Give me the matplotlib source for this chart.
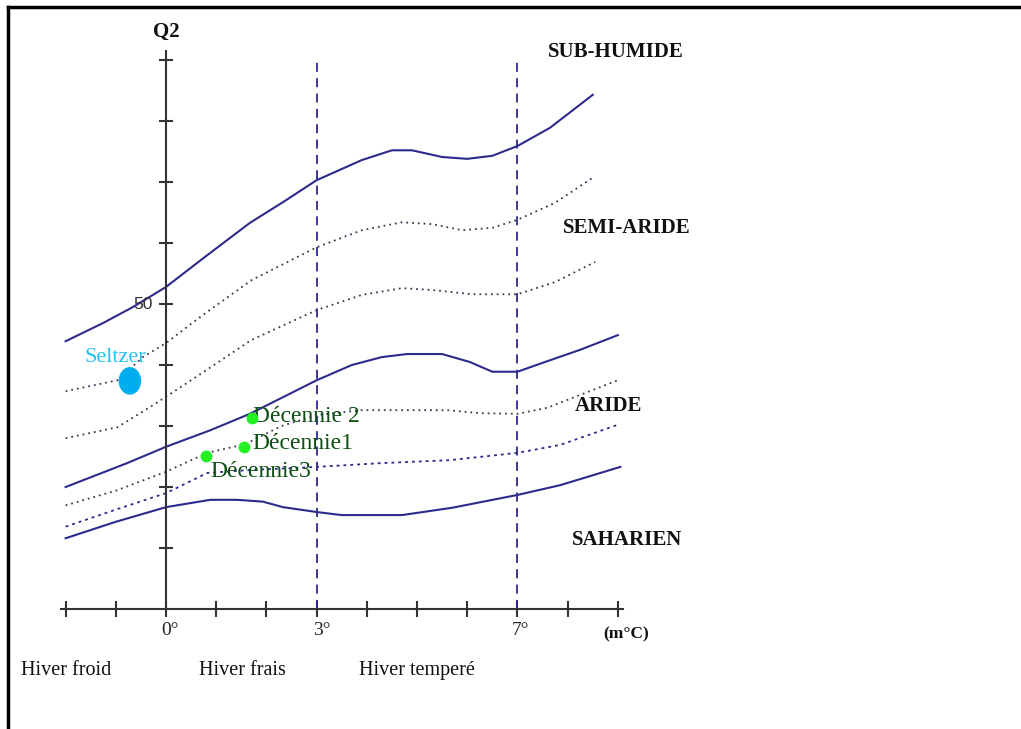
import matplotlib
matplotlib.use("Agg")
import matplotlib.pyplot as plt
from matplotlib.patches import Ellipse
from matplotlib.lines import Line2D

# limites d'etages (m en degres C, Q2)
x1 = [-2, -1.25, -0.66, 0, 0.74, 1.67, 2.33, 3, 3.9, 4.5, 4.9, 5.5, 6, 6.5, 7, 7.65, 8.5]
y1 = [43.9, 46.9, 49.5, 52.8, 57.5, 63.3, 66.7, 70.3, 73.6, 75.2, 75.2, 74.1, 73.8, 74.3, 75.9, 78.9, 84.3]

x2 = [-2, -0.97, -0.46, 0, 0.7, 1.7, 3, 3.9, 4.7, 5.3, 5.9, 6.5, 7, 7.75, 8.5]
y2 = [35.7, 37.5, 41.3, 43.6, 48.0, 53.9, 59.3, 62.1, 63.4, 63.1, 62.1, 62.5, 63.8, 66.6, 70.7]

x3 = [-2, -0.97, -0.32, 0, 0.7, 1.7, 3, 3.9, 4.7, 5.3, 6.1, 7, 7.75, 8.55]
y3 = [28.0, 29.8, 33.1, 34.8, 38.6, 44.1, 49.0, 51.5, 52.6, 52.3, 51.6, 51.6, 53.6, 56.9]

x4 = [-2, -0.78, 0, 0.88, 1.67, 3, 3.7, 4.3, 4.8, 5.5, 6.05, 6.5, 7, 7.55, 8.25, 9]
y4 = [20.0, 23.9, 26.6, 29.3, 32.0, 37.5, 40.0, 41.3, 41.8, 41.8, 40.5, 38.9, 38.9, 40.5, 42.5, 44.9]

x5 = [-2, -1.0, 0, 0.82, 1.57, 2.3, 3, 3.9, 5.6, 6.25, 7, 7.6, 8.25, 9]
y5 = [17.0, 19.4, 22.5, 25.6, 27.0, 30.0, 31.8, 32.6, 32.6, 32.1, 32.0, 33.0, 35.1, 37.5]

x6 = [-2, -1.0, 0, 0.82, 1.7, 3, 4.25, 5.65, 7, 7.85, 9]
y6 = [13.5, 16.3, 19.0, 22.3, 22.8, 23.3, 23.9, 24.4, 25.6, 26.9, 30.2]

x7 = [-2, -1.0, 0, 0.88, 1.42, 1.93, 2.33, 3, 3.5, 4.7, 5.7, 7, 7.85, 9.05]
y7 = [11.6, 14.3, 16.7, 17.9, 17.9, 17.6, 16.7, 15.9, 15.4, 15.4, 16.6, 18.7, 20.3, 23.3]

# stations
decennies = ["Décennie 2", "Décennie1", "Décennie3"]
dec_m = [1.71, 1.55, 0.80]
dec_q2 = [31.3, 26.6, 25.1]
seltzer_m, seltzer_q2 = -0.72, 37.4

etages = ["SUB-HUMIDE", "SEMI-ARIDE", "ARIDE", "SAHARIEN"]
etages_q2 = [91.3, 62.5, 33.3, 11.3]
etages_m = [7.61, 7.91, 8.15, 8.09]

hivers = ["Hiver froid", "Hiver frais", "Hiver temperé"]
hivers_m = [-2.89, 0.66, 3.84]

navy = "#2e2a8c"
serif = ["Liberation Serif", "DejaVu Serif"]

fig = plt.figure(figsize=(10.21, 7.29), dpi=100)
ax = fig.add_axes([0, 0, 1, 1])
ax.set_xlim(-3.307, 17.03)
ax.set_ylim(-19.67, 99.84)

# axes en croix
for s in ["top", "right"]:
    ax.spines[s].set_visible(False)
ax.spines["left"].set_position(("data", 0))
ax.spines["bottom"].set_position(("data", 0))
ax.spines["left"].set_bounds(0, 91.5)
ax.spines["bottom"].set_bounds(-2.1, 9.1)
for s in ["left", "bottom"]:
    ax.spines[s].set_color("#333333")
    ax.spines[s].set_linewidth(1.5)
ax.set_xticks(range(-2, 10))
ax.set_yticks(range(10, 100, 10))
ax.tick_params(axis="x", direction="inout", length=12, width=1.5, color="#333333",
               labelbottom=False)
ax.tick_params(axis="y", direction="inout", length=10, width=1.5, color="#333333",
               labelleft=False)

# limites 3 et 7 degres
for m in [3, 7]:
    ax.plot([m, m], [0, 90.5], color=navy, lw=1.3, ls=(0, (5, 3.5)))

ax.plot(x1, y1, color=navy, lw=1.5)
ax.plot(x2, y2, color="#3a3a55", lw=1.3, ls=(0, (1, 2.2)))
ax.plot(x3, y3, color="#3a3a55", lw=1.3, ls=(0, (1, 2.2)))
ax.plot(x4, y4, color=navy, lw=1.5)
ax.plot(x5, y5, color="#3a3a55", lw=1.3, ls=(0, (1, 2.2)))
ax.plot(x6, y6, color=navy, lw=1.3, ls=(0, (1.6, 2.2)))
ax.plot(x7, y7, color=navy, lw=1.5)

# Seltzer
ax.add_patch(Ellipse((seltzer_m, seltzer_q2), 0.42, 4.3, color="#00aeef", zorder=4))
ax.text(-1.63, 41.3, "Seltzer", color="#1ec3f3", fontsize=16, family=serif,
        va="center", ha="left")

ax.plot(dec_m, dec_q2, "o", color="#22f022", ms=7.5, zorder=4)
for name, xt, yt in zip(decennies, [1.73, 1.71, 0.88], [31.5, 27.2, 22.6]):
    ax.text(xt, yt, name, color="#0d4f12", fontsize=17, family=serif,
            va="center", ha="left")

for name, m, q in zip(etages, etages_m, etages_q2):
    ax.text(m, q, name, fontsize=15, family=serif, weight="bold",
            va="center", ha="left", color="#111111")

ax.text(0, 94.6, "Q2", fontsize=15, family=serif, weight="bold",
        ha="center", va="center", color="#111111")
ax.text(-0.26, 50, "50", fontsize=12.5, family=["Liberation Sans", "DejaVu Sans"],
        ha="right", va="center", color="#333333")
for lab, m in zip(["0°", "3°", "7°"], [0.08, 3.1, 7.07]):
    ax.text(m, -3.6, lab, fontsize=14, family=serif, ha="center", va="center",
            color="#222222")
ax.text(9.16, -4.1, "(m°C)", fontsize=12.5, family=serif, weight="bold",
        ha="center", va="center", color="#111111")
for lab, m in zip(hivers, hivers_m):
    ax.text(m, -10.1, lab, fontsize=14.5, family=serif, ha="left", va="center",
            color="#111111")

# cadre
fig.add_artist(Line2D([8 / 1021, 8 / 1021], [0, 1 - 7 / 729], color="black", lw=2.5))
fig.add_artist(Line2D([8 / 1021, 1], [1 - 7 / 729, 1 - 7 / 729], color="black", lw=2.5))

fig.savefig("out.png", dpi=100)
